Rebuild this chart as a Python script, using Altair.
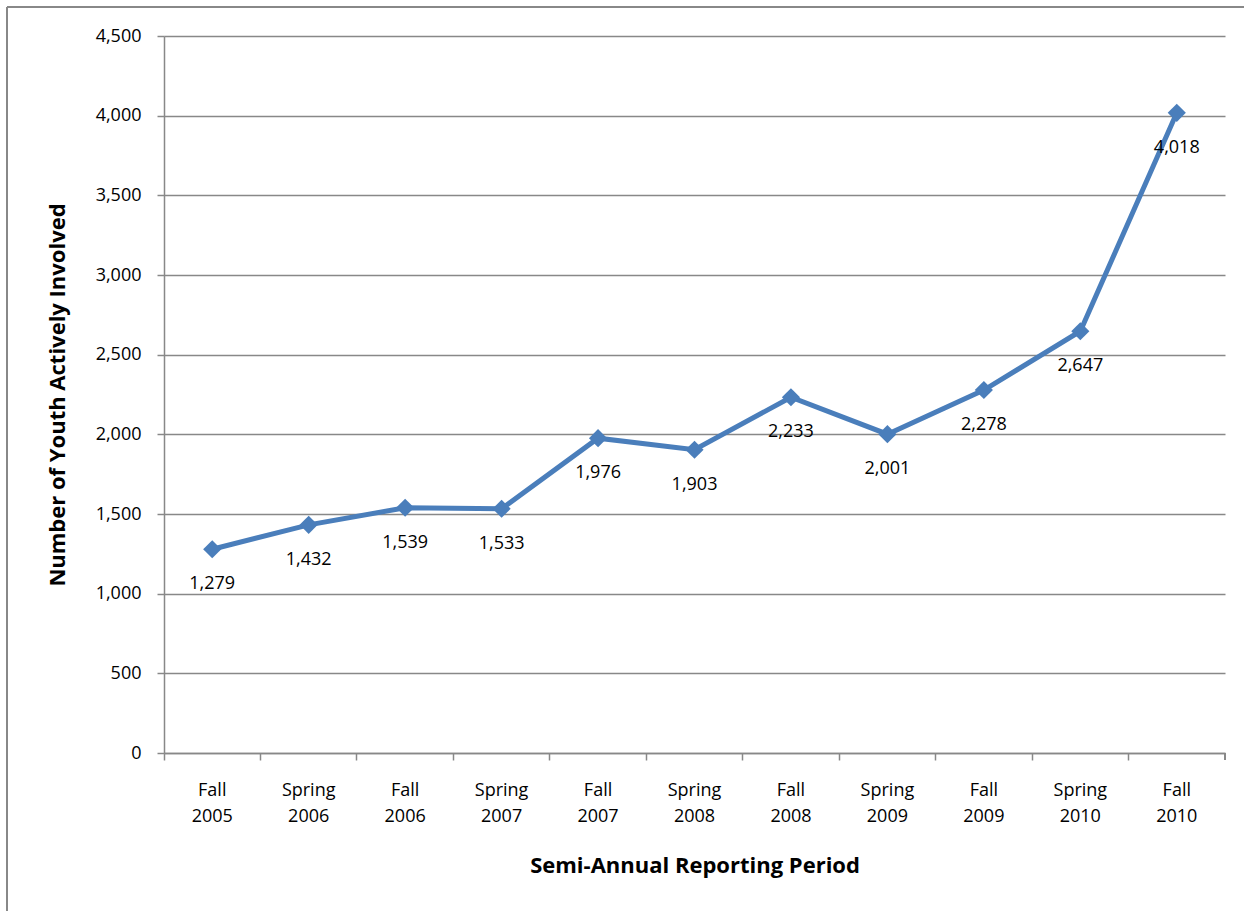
import altair as alt
import pandas as pd

periods = ["Fall 2005", "Spring 2006", "Fall 2006", "Spring 2007", "Fall 2007",
           "Spring 2008", "Fall 2008", "Spring 2009", "Fall 2009", "Spring 2010", "Fall 2010"]
youth = [1279, 1432, 1539, 1533, 1976, 1903, 2233, 2001, 2278, 2647, 4018]

df = pd.DataFrame({"period": periods, "youth": youth})

FONT = "Open Sans"
BLUE = "#4A7EBB"
GRAY = "#888888"

x_enc = alt.X("period:N", sort=periods, bandPosition=0.5,
              scale=alt.Scale(type="band", paddingInner=0, paddingOuter=0),
              axis=alt.Axis(title="Semi-Annual Reporting Period", bandPosition=0,
                            labelAngle=0, labelExpr="split(datum.label, ' ')",
                            labelFontSize=18, labelFont=FONT, labelColor="#000000",
                            labelLineHeight=26, labelPadding=21, labelBaseline="top",
                            tickSize=7, tickColor=GRAY, tickWidth=1.5,
                            domainColor=GRAY, domainWidth=1.5, grid=False,
                            titleFont=FONT, titleFontSize=22, titleFontWeight="bold",
                            titleColor="#000000", titlePadding=30))
y_enc = alt.Y("youth:Q",
              scale=alt.Scale(domain=[0, 4500], nice=False),
              axis=alt.Axis(title="Number of Youth Actively Involved", values=list(range(0, 4501, 500)),
                            format=",.0f", labelFontSize=18, labelFont=FONT, labelColor="#000000",
                            labelPadding=16, tickSize=7, tickColor=GRAY, tickWidth=1.5,
                            domainColor=GRAY, domainWidth=1.5, gridColor=GRAY, gridWidth=1.5,
                            titleFont=FONT, titleFontSize=22, titleFontWeight="bold",
                            titleColor="#000000", titlePadding=26))

base = alt.Chart(df)
line = base.mark_line(color=BLUE, strokeWidth=5).encode(x=x_enc, y=y_enc)
pts = base.mark_point(shape="diamond", filled=True, color=BLUE, size=330, opacity=1).encode(x=x_enc, y=y_enc)
labels = base.mark_text(dy=35, fontSize=18, font=FONT, color="#000000").encode(
    x=x_enc, y=y_enc, text=alt.Text("youth:Q", format=",.0f"))

frame_left = alt.Chart(df).mark_rule(color=GRAY, strokeWidth=1.5, clip=False).encode(
    x=alt.value(-157), y=alt.value(-29), y2=alt.value(900))
frame_top = alt.Chart(df).mark_rule(color=GRAY, strokeWidth=1.5, clip=False).encode(
    x=alt.value(-157), x2=alt.value(1100), y=alt.value(-29))
end_tick = alt.Chart(df).mark_rule(color=GRAY, strokeWidth=1.5, clip=False).encode(
    x=alt.value(1061), y=alt.value(717), y2=alt.value(724))

chart = alt.layer(frame_left, frame_top, end_tick, line, pts, labels).properties(
    width=1061, height=717,
    autosize=alt.AutoSizeParams(type="none"),
    padding={"left": 164, "top": 36, "right": 19, "bottom": 158},
    background="white",
).configure_view(stroke=None)

chart.save("out.html", embed_options={"renderer": "svg", "actions": False})
